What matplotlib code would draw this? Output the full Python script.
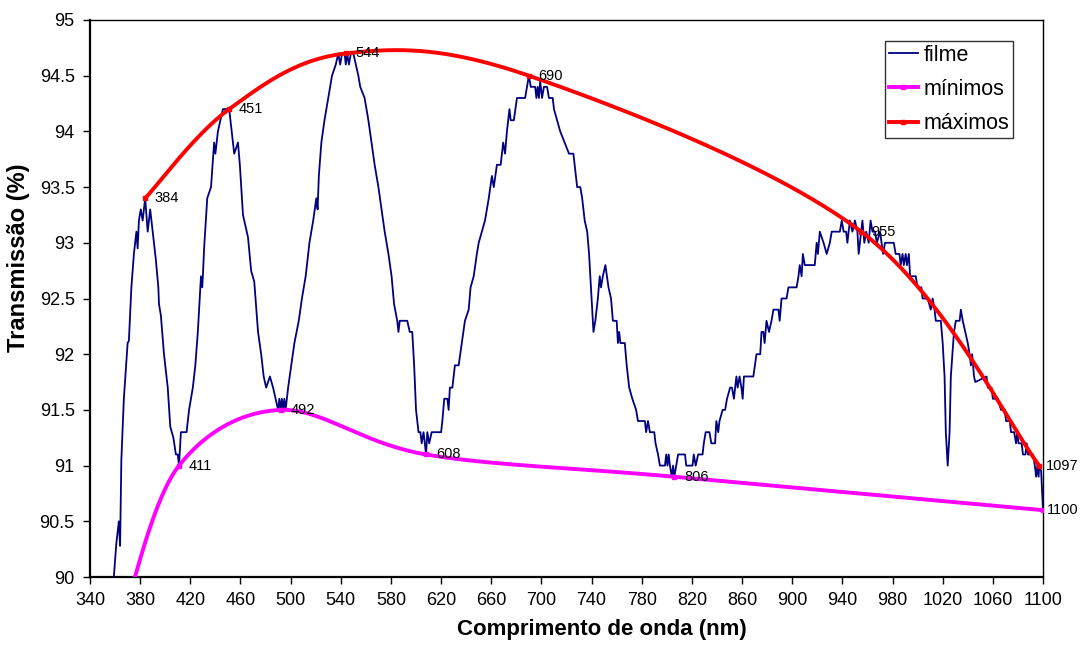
import numpy as np
import matplotlib
matplotlib.use("Agg")
import matplotlib.pyplot as plt
from matplotlib.lines import Line2D

plt.rcParams['font.family'] = ['Liberation Sans', 'DejaVu Sans']

# ---------------- data ----------------
filme_nm = [355, 359, 361, 363, 364, 365, 367, 370, 371, 373, 375, 377, 378, 379, 380.5, 382, 384,
            386, 388, 390, 392.5, 394.5, 395, 396.5, 399, 402, 404, 406.5, 408.5, 410, 411,
            412.5, 417, 419, 422, 424, 426, 428.5, 429.5, 430, 431, 433.5, 436.5, 439, 440,
            442, 446, 449, 451, 453, 455, 458, 459.5, 462, 466, 468.5, 471, 474, 476.5,
            478.5, 480.5, 483.5, 486, 488, 490, 491, 492, 493, 494, 495, 496, 498, 500.5,
            503, 506.5, 509, 512, 515, 518, 520.5, 521.5, 522.5, 524.5, 527, 530, 533, 536,
            538, 539.5, 541, 543, 544, 545, 546.5, 548, 550, 552, 554, 555.5, 559, 562,
            564.5, 567, 570, 572.5, 575, 578, 580.5, 582.5, 585, 586, 587, 593, 595, 597,
            598.5, 600, 602, 603.5, 604.5, 606, 608, 609, 610.5, 612.5, 620, 621, 622.5,
            625, 626, 627, 629, 631, 634, 636.5, 639, 642, 643.5, 646, 648.5, 650, 652.5,
            655, 658, 660.5, 662, 664.5, 667.5, 669.5, 671, 672.5, 674.5, 675.5, 678, 680.5,
            687, 690, 691.5, 695, 696, 697, 698, 699, 700.5, 702, 704.5, 706, 709, 710,
            712.5, 715, 718.5, 722, 725.5, 726.5, 728.5, 731, 732.5, 734.5, 736.5, 738, 739,
            740.5, 741.5, 743, 745, 746.5, 747.5, 749, 751, 753.5, 755.5, 757, 760, 761,
            762, 763, 766.5, 768, 770, 772.5, 775.5, 777, 782.5, 783.5, 785, 786.5, 790,
            791, 793, 794.5, 798.5, 799.5, 800.5, 801.5, 802.5, 804, 805, 806, 807.5, 809,
            814.5, 815.5, 820.5, 821.5, 823, 825, 828.5, 829.5, 831, 834, 835.5, 838.5,
            839.5, 841, 842, 844.5, 846.5, 848, 850.5, 852, 853.5, 855.5, 856.5, 858,
            859.5, 860.5, 861.5, 869, 871.5, 874.5, 875.5, 877, 878, 879.5, 881.5, 883.5,
            885, 889, 890, 891.5, 895.5, 897, 903.5, 905, 906, 907.5, 908.5, 910, 918,
            919.5, 920.5, 922, 925, 927.5, 930, 931.5, 938, 939.5, 941, 943, 944, 946, 948,
            950, 952, 953, 955, 956, 957.5, 959, 961, 962.5, 964, 966, 967.5, 970, 972.5,
            974, 981, 982.5, 985.5, 986.5, 988, 989, 990.5, 991.5, 993, 994, 998.5, 1000,
            1003, 1004, 1008, 1010.5, 1012, 1013.5, 1014.5, 1018.5, 1020, 1021.5, 1022.5,
            1024, 1025.5, 1026.5, 1029, 1030.5, 1033.5, 1034.5, 1036, 1038, 1040, 1041.5,
            1042.5, 1043.5, 1045, 1046, 1055, 1056, 1059, 1060, 1064, 1066.5, 1069.5,
            1070.5, 1073.5, 1074.5, 1077, 1078.5, 1079.5, 1080.5, 1083, 1084, 1086, 1087,
            1088, 1092, 1093.5, 1094.5, 1095.5, 1096.5, 1097, 1098.5, 1100]
filme_T = [89.0, 90.0, 90.3, 90.5, 90.28, 91.05, 91.6, 92.1, 92.12, 92.6, 92.9, 93.1, 92.95, 93.2, 93.3, 93.2, 93.4,
           93.1, 93.3, 93.1, 92.85, 92.6, 92.45, 92.35, 92.0, 91.7, 91.35, 91.25, 91.1, 91.1, 91.0,
           91.3, 91.3, 91.5, 91.7, 91.9, 92.2, 92.7, 92.6, 92.7, 92.95, 93.4, 93.5, 93.9, 93.8,
           94.0, 94.2, 94.2, 94.2, 94.0, 93.8, 93.9, 93.7, 93.25, 93.05, 92.75, 92.65, 92.2, 92.0,
           91.8, 91.7, 91.8, 91.7, 91.6, 91.5, 91.6, 91.5, 91.6, 91.5, 91.6, 91.5, 91.7, 91.9,
           92.1, 92.3, 92.5, 92.7, 93.0, 93.2, 93.4, 93.3, 93.6, 93.9, 94.1, 94.3, 94.5, 94.6,
           94.7, 94.6, 94.7, 94.7, 94.6, 94.7, 94.6, 94.7, 94.7, 94.6, 94.5, 94.4, 94.3, 94.1,
           93.9, 93.7, 93.5, 93.3, 93.1, 92.9, 92.7, 92.45, 92.3, 92.2, 92.3, 92.3, 92.2, 92.2,
           91.9, 91.5, 91.3, 91.3, 91.2, 91.3, 91.1, 91.3, 91.2, 91.3, 91.3, 91.4, 91.6,
           91.6, 91.5, 91.7, 91.7, 91.9, 91.9, 92.1, 92.3, 92.4, 92.6, 92.7, 92.9, 93.0, 93.1,
           93.2, 93.4, 93.6, 93.5, 93.7, 93.7, 93.9, 93.8, 94.0, 94.2, 94.1, 94.1, 94.3,
           94.3, 94.5, 94.4, 94.4, 94.3, 94.4, 94.3, 94.45, 94.3, 94.4, 94.4, 94.3, 94.3, 94.2,
           94.1, 94.0, 93.9, 93.8, 93.8, 93.7, 93.5, 93.5, 93.4, 93.2, 93.1, 92.9, 92.7,
           92.4, 92.2, 92.3, 92.5, 92.7, 92.6, 92.7, 92.8, 92.6, 92.5, 92.3, 92.3, 92.1,
           92.2, 92.1, 92.1, 91.9, 91.7, 91.6, 91.5, 91.4, 91.4, 91.3, 91.4, 91.3, 91.3,
           91.2, 91.1, 91.0, 91.0, 91.1, 91.0, 91.1, 91.0, 90.9, 91.0, 90.9, 91.0, 91.1,
           91.1, 91.0, 91.0, 91.1, 91.0, 91.1, 91.1, 91.2, 91.3, 91.3, 91.2, 91.2,
           91.4, 91.3, 91.4, 91.5, 91.5, 91.6, 91.7, 91.7, 91.6, 91.8, 91.7, 91.8,
           91.7, 91.6, 91.8, 91.8, 92.0, 92.0, 92.2, 92.2, 92.1, 92.3, 92.2, 92.3,
           92.4, 92.4, 92.3, 92.5, 92.5, 92.6, 92.6, 92.7, 92.8, 92.7, 92.9, 92.8, 92.8,
           93.0, 92.9, 93.1, 93.0, 92.9, 93.0, 93.1, 93.1, 93.2, 93.1, 93.1, 93.0, 93.2, 93.1,
           93.2, 93.1, 92.9, 93.1, 93.2, 93.0, 93.1, 93.0, 93.2, 93.1, 93.1, 93.0, 93.1, 92.9,
           93.0, 93.0, 92.9, 92.9, 92.8, 92.9, 92.8, 92.9, 92.8, 92.9, 92.7, 92.7, 92.6,
           92.6, 92.5, 92.5, 92.4, 92.5, 92.4, 92.3, 92.3, 92.1, 91.8, 91.3,
           91.0, 91.3, 91.8, 92.2, 92.3, 92.3, 92.4, 92.3, 92.2, 92.1, 92.0,
           91.9, 92.0, 91.8, 91.75, 91.8, 91.7, 91.7, 91.6, 91.6, 91.5, 91.5,
           91.4, 91.4, 91.3, 91.3, 91.2, 91.3, 91.2, 91.2, 91.1, 91.1, 91.2,
           91.1, 91.1, 91.0, 90.9, 91.0, 90.9, 91.0, 90.95, 90.6]

max_nm = [384, 451, 544, 690, 955, 1097]
max_T = [93.4, 94.2, 94.7, 94.5, 93.1, 91.0]

min_nm = [369, 411, 492, 608, 806, 1100]
min_T = [89.75, 91.0, 91.5, 91.1, 90.9, 90.6]

x_ticks = list(range(340, 1101, 40))
y_ticks = [90, 90.5, 91, 91.5, 92, 92.5, 93, 93.5, 94, 94.5, 95]

# ---------------- figure ----------------
W, H = 1081, 646
fig = plt.figure(figsize=(W / 100, H / 100), dpi=100)
ax = fig.add_axes([90 / W, 1 - 577 / H, (1043 - 90) / W, (577 - 20) / H])
ax.set_xlim(340, 1100)
ax.set_ylim(90, 95)


def excel_smooth(xs, ys, n=60):
    pts = ax.transData.transform(np.column_stack([xs, ys]))
    P = np.vstack([pts[0], pts, pts[-1]])
    segs = []
    t = np.linspace(0, 1, n)[:, None]
    for i in range(1, len(P) - 2):
        p0, p1 = P[i], P[i + 1]
        c1 = p0 + (P[i + 1] - P[i - 1]) / 6
        c2 = p1 - (P[i + 2] - P[i]) / 6
        seg = (1 - t) ** 3 * p0 + 3 * (1 - t) ** 2 * t * c1 + 3 * (1 - t) * t ** 2 * c2 + t ** 3 * p1
        segs.append(seg if i == 1 else seg[1:])
    out = ax.transData.inverted().transform(np.vstack(segs))
    return out[:, 0], out[:, 1]


navy = '#000080'
mag = '#FF00FF'
red = '#FF0000'

ax.plot(filme_nm, filme_T, color=navy, lw=1.3, zorder=3)

sx, sy = excel_smooth(min_nm, min_T)
ax.plot(sx, sy, color=mag, lw=2.8, zorder=4, solid_capstyle='butt')
ax.plot(min_nm, min_T, ls='none', marker='s', ms=3.5, color=mag, zorder=5)

sx, sy = excel_smooth(max_nm, max_T)
ax.plot(sx, sy, color=red, lw=2.8, zorder=4, solid_capstyle='butt')
ax.plot(max_nm, max_T, ls='none', marker='s', ms=3.5, color=red, zorder=5)

for xs, ys in ((max_nm, max_T), (min_nm, min_T)):
    for x, y in zip(xs, ys):
        off = 7
        if x >= 1097:
            off = 5 if x < 1100 else 3
        ax.annotate(f"{x}", (x, y), xytext=(off, 0), textcoords='offset points',
                    ha='left', va='center', fontsize=10.5, color='black',
                    annotation_clip=True, zorder=6)

ax.set_xticks(x_ticks)
ax.set_yticks(y_ticks)
ax.set_yticklabels([f"{v:g}" for v in y_ticks])
ax.tick_params(axis='both', direction='out', length=5, width=1, labelsize=13, pad=6)

for s in ('left', 'bottom'):
    ax.spines[s].set_linewidth(1.6)
for s in ('top', 'right'):
    ax.spines[s].set_linewidth(1.0)

ax.set_xlabel('Comprimento de onda (nm)', fontsize=16, fontweight='bold')
ax.xaxis.set_label_coords((602 - 90) / 953, (577 - 619) / 557)
ax.set_ylabel('Transmissão (%)', fontsize=17, fontweight='bold')
ax.yaxis.set_label_coords((30 - 90) / 953, (577 - 258) / 557)

handles = [Line2D([], [], color=navy, lw=1.3),
           Line2D([], [], color=mag, lw=2.8, marker='s', ms=3.5),
           Line2D([], [], color=red, lw=2.8, marker='s', ms=3.5)]
leg = fig.legend(handles, ['filme', 'mínimos', 'máximos'], loc='upper right',
                 bbox_to_anchor=(1013 / W, 1 - 40.7 / H), bbox_transform=fig.transFigure,
                 fontsize=15.5, frameon=True, fancybox=False, shadow=False, borderaxespad=0,
                 handlelength=1.35, handletextpad=0.25, labelspacing=0.62, borderpad=0.18,
                 numpoints=1)
leg.get_frame().set_edgecolor('black')
leg.get_frame().set_linewidth(1.0)

fig.savefig('out.png', dpi=100)
